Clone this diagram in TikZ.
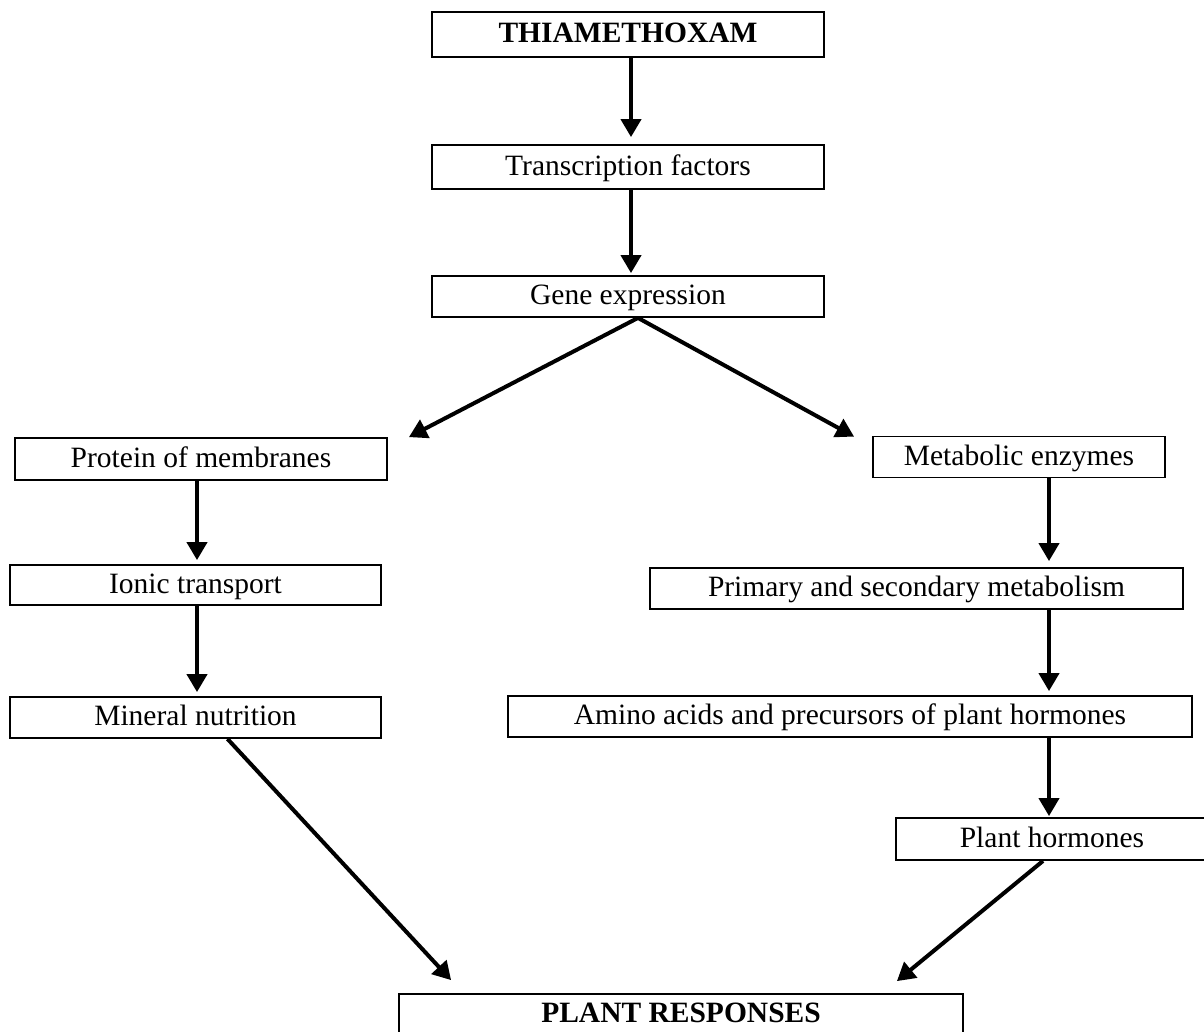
\documentclass[tikz,border=0pt]{standalone}
\usepackage{fontspec}
\setmainfont{Liberation Serif}
\usetikzlibrary{
        arrows.meta
    }
\tikzset{box/.style={draw,line width=1.8pt,inner sep=0pt,minimum height=42pt,text height=22pt,text depth=6pt,font=\fontsize{29.5}{34}\selectfont}}
\tikzset{arr/.style={-{Triangle[length=18pt,width=20pt]},line width=4pt,shorten >=4pt}}

\begin{document}
\begin{tikzpicture}[x=1pt,y=-1pt]
                        \clip (0,0) rectangle (1204,1031);
                        % middle column
                        \node[box,minimum width=392pt,minimum height=45pt] (thia) at (628,34.5) {\textbf{THIAMETHOXAM}};
                        \node[box,minimum width=392pt,minimum height=44pt] (tf) at (628,167) {Transcription factors};
                        \node[box,minimum width=392pt,minimum height=41pt] (ge) at (628,296.5) {Gene expression};
                        % left branch
                        \node[box,minimum width=372pt] (prot) at (201,459) {Protein of membranes};
                        \node[box,minimum width=371pt,minimum height=40pt] (ionic) at (195.5,585) {Ionic transport};
                        \node[box,minimum width=371pt,minimum height=41pt] (miner) at (195.5,717.5) {Mineral nutrition};
                        % right branch
                        \node[box,minimum width=292pt,minimum height=41pt] (metab) at (1019,457) {Metabolic enzymes};
                        \node[box,minimum width=533pt,minimum height=41pt] (prim) at (916.5,588.5) {Primary and secondary metabolism};
                        \node[box,minimum width=684pt,minimum height=41pt] (amino) at (850,716.5) {Amino acids and precursors of plant hormones};
                        \node[box,minimum width=312pt] (phorm) at (1052,839) {Plant hormones};
                        % result
                        \node[box,minimum width=564pt,minimum height=40pt] (resp) at (681,1014) {\textbf{PLANT RESPONSES}};
                        \coordinate (ccol) at (631,0);
                        \coordinate (lcol) at (197,0);
                        \coordinate (rcol) at (1049,0);
                        \path[arr]
                            (thia.south -| ccol)  edge[shorten >=7pt]  (tf.north -| ccol)
                            (tf.south -| ccol)  edge[shorten >=2pt]  (ge.north -| ccol)
                            ([xshift=10pt]ge.south)  edge[shorten >=0pt]  ([xshift=21pt]prot.north east)
                            ([xshift=10pt]ge.south)  edge[shorten >=0pt]  ([xshift=-18pt,yshift=-1pt]metab.north west)
                            (prot.south -| lcol)  edge  (ionic.north -| lcol)
                            (ionic.south -| lcol)  edge  (miner.north -| lcol)
                            (metab.south -| rcol)  edge[shorten >=6pt]  (prim.north -| rcol)
                            (prim.south -| rcol)  edge  (amino.north -| rcol)
                            (amino.south -| rcol)  edge[shorten >=1pt]  (phorm.north -| rcol)
                            ([xshift=32pt]miner.south)  edge[shorten >=0pt]  ([xshift=53pt,yshift=13pt]resp.north west)
                            ([xshift=-9pt]phorm.south)  edge[shorten >=0pt]  ([xshift=-67pt,yshift=12pt]resp.north east);
                    \end{tikzpicture}
\end{document}
